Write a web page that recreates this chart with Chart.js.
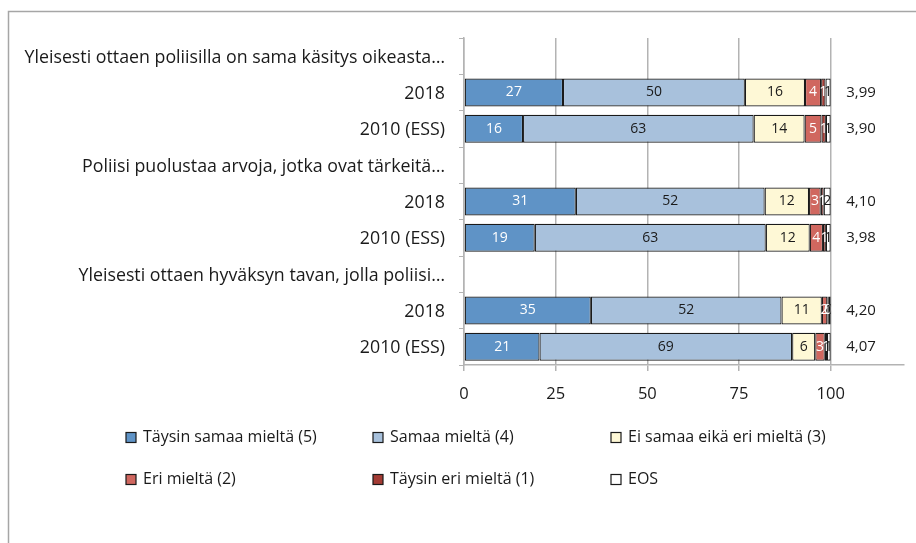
<!DOCTYPE html>
<html><head><meta charset="utf-8">
<script src="https://cdn.jsdelivr.net/npm/chart.js@4"></script>
<style>html,body{margin:0;padding:0;background:#fff}#wrap{width:916px;height:543px;position:relative}</style>
</head><body><div id="wrap"><canvas id="c" width="916" height="543"></canvas></div>
<script>
const categories = [
  "Yleisesti ottaen poliisilla on sama käsitys oikeasta…", "2018", "2010 (ESS)",
  "Poliisi puolustaa arvoja, jotka ovat tärkeitä…", "2018", "2010 (ESS)",
  "Yleisesti ottaen hyväksyn tavan, jolla poliisi…", "2018", "2010 (ESS)"
];
const seriesNames = ["Täysin samaa mieltä (5)", "Samaa mieltä (4)", "Ei samaa eikä eri mieltä (3)",
                     "Eri mieltä (2)", "Täysin eri mieltä (1)", "EOS"];
const taysinSamaa = [null, 27.0, 16.1, null, 30.5, 19.3, null, 34.6, 20.6];
const samaa       = [null, 49.6, 62.9, null, 51.5, 63.0, null, 52.0, 68.9];
const eiSamaaEiEri= [null, 16.4, 13.9, null, 12.1, 12.0, null, 11.0, 6.3];
const eriMielta   = [null, 4.4, 4.6, null, 3.2, 3.6, null, 1.5, 2.6];
const taysinEri   = [null, 1.2, 1.2, null, 0.8, 0.8, null, 0.4, 0.6];
const eos         = [null, 1.4, 1.3, null, 1.9, 1.3, null, 0.5, 1.0];
const means       = [null, 3.99, 3.90, null, 4.10, 3.98, null, 4.20, 4.07];
const xTicks      = [0, 25, 50, 75, 100];

const colors = ["#5f93c6", "#a8c1dc", "#fef8d6", "#d0675f", "#a33b34", "#ffffff"];
const labelColors = ["#ffffff", "#1a1a1a", "#1a1a1a", "#ffffff", "#ffffff", "#1a1a1a"];
const FONT = "'Open Sans', sans-serif";

const seriesData = [taysinSamaa, samaa, eiSamaaEiEri, eriMielta, taysinEri, eos];
const datasets = seriesData.map((d, i) => ({
  label: seriesNames[i], data: d, backgroundColor: colors[i],
  borderColor: "#1a1a1a", borderWidth: 1.2, borderSkipped: false,
  barPercentage: 0.77, categoryPercentage: 1
}));

const framePlugin = {
  id: 'frame',
  beforeDraw(chart) {
    const ctx = chart.ctx; ctx.save();
    ctx.fillStyle = '#fff'; ctx.fillRect(0, 0, chart.width, chart.height);
    ctx.strokeStyle = '#a6a6a6'; ctx.lineWidth = 1.5;
    ctx.strokeRect(8.5, 11.5, 2000, 2000);
    ctx.restore();
  }
};

const labelPlugin = {
  id: 'barlabels',
  afterDatasetsDraw(chart) {
    const ctx = chart.ctx; ctx.save();
    ctx.textAlign = 'center'; ctx.textBaseline = 'middle';
    ctx.font = '14px ' + FONT;
    chart.data.datasets.forEach((ds, i) => {
      const meta = chart.getDatasetMeta(i);
      meta.data.forEach((bar, j) => {
        const v = ds.data[j]; if (v == null) return;
        const p = bar.getProps(['x', 'y', 'base'], true);
        ctx.fillStyle = labelColors[i];
        ctx.fillText(String(Math.round(v)), (p.x + p.base) / 2, p.y);
      });
    });
    const xs = chart.scales.x, ys = chart.scales.y;
    ctx.fillStyle = '#1a1a1a'; ctx.font = '15px ' + FONT;
    means.forEach((m, j) => {
      if (m == null) return;
      ctx.fillText(m.toFixed(2).replace('.', ','), xs.getPixelForValue(108.3), ys.getPixelForValue(j));
    });
    // legend
    const colX = [131, 378, 616], rowY = [437.5, 479.5];
    ctx.textAlign = 'left'; ctx.font = '16px ' + FONT;
    chart.data.datasets.forEach((ds, i) => {
      const x = colX[i % 3], y = rowY[Math.floor(i / 3)];
      ctx.fillStyle = ds.backgroundColor; ctx.fillRect(x - 5, y - 5, 10, 10);
      ctx.strokeStyle = '#1a1a1a'; ctx.lineWidth = 1.2; ctx.strokeRect(x - 5, y - 5, 10, 10);
      ctx.fillStyle = '#1a1a1a'; ctx.fillText(ds.label, x + 12, y);
    });
    ctx.restore();
  }
};

new Chart(document.getElementById('c'), {
  type: 'bar',
  data: { labels: categories, datasets },
  options: {
    indexAxis: 'y', responsive: false, animation: false,
    layout: { padding: { left: 8, right: 12, top: 38, bottom: 133 } },
    plugins: { legend: { display: false }, tooltip: { enabled: false } },
    scales: {
      x: {
        stacked: true, min: 0, max: 120,
        afterBuildTicks: s => { s.ticks = xTicks.map(v => ({ value: v })); },
        afterFit: s => { s.height = 45; },
        grid: { color: '#b3b3b3', lineWidth: 1.5, tickLength: 6, drawTicks: true },
        border: { color: '#b3b3b3', width: 1.5 },
        ticks: { color: '#1a1a1a', font: { family: FONT, size: 16.5 }, padding: 13 }
      },
      y: {
        stacked: true,
        afterFit: s => { s.width = 456; },
        grid: { offset: true, drawOnChartArea: false, color: '#b3b3b3', tickLength: 5 },
        border: { color: '#b3b3b3', width: 1.5 },
        ticks: { color: '#1a1a1a', font: { family: FONT, size: 17.8 }, padding: 14, labelOffset: 1.5 }
      }
    }
  },
  plugins: [framePlugin, labelPlugin]
});
</script></body></html>
